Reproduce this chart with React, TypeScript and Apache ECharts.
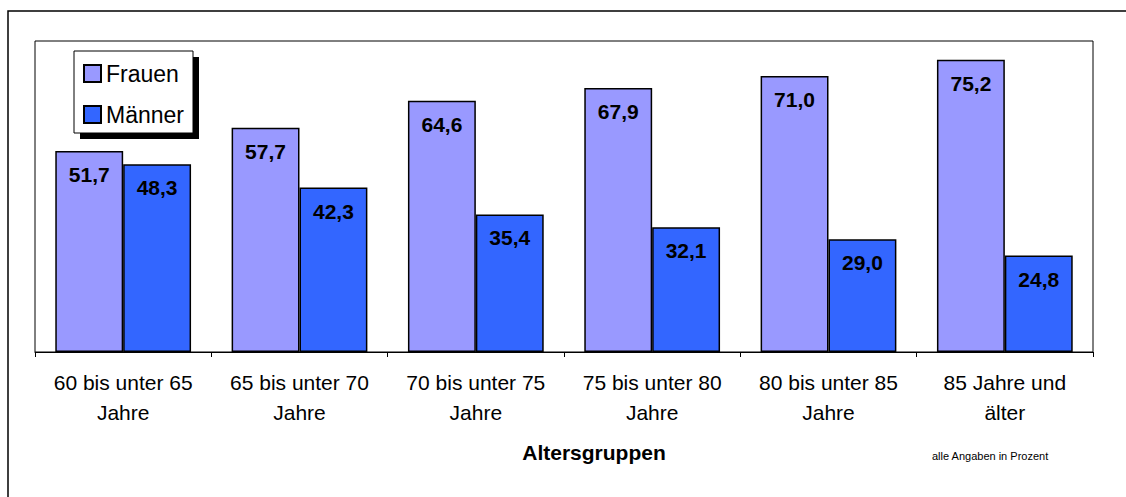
import React, { useEffect, useRef } from "react";
import * as echarts from "echarts";

const categories = [
  "60 bis unter 65\nJahre",
  "65 bis unter 70\nJahre",
  "70 bis unter 75\nJahre",
  "75 bis unter 80\nJahre",
  "80 bis unter 85\nJahre",
  "85 Jahre und\nälter",
];
const frauen = [51.7, 57.7, 64.6, 67.9, 71.0, 75.2];
const maenner = [48.3, 42.3, 35.4, 32.1, 29.0, 24.8];

const FONT = "'Liberation Sans', Arial, sans-serif";

export default function App() {
  const ref = useRef<HTMLDivElement>(null);
  useEffect(() => {
    if (!ref.current) return;
    const chart = echarts.init(ref.current, undefined, { renderer: "svg" });
    const fmt = (p: any) => Number(p.value).toFixed(1).replace(".", ",");
    const label = {
      show: true,
      position: "insideTop",
      distance: 13,
      formatter: fmt,
      color: "#000",
      fontSize: 21,
      fontWeight: "bold",
      fontFamily: FONT,
    };
    chart.setOption({
      animation: false,
      backgroundColor: "#fff",
      textStyle: { fontFamily: FONT },
      grid: {
        left: 35,
        top: 41,
        right: 33,
        bottom: 145,
        show: true,
        borderColor: "#000",
        borderWidth: 1,
      },
      legend: {
        orient: "vertical",
        left: 83,
        top: 62,
        padding: 0,
        itemWidth: 17,
        itemHeight: 17,
        itemGap: 18,
        icon: "rect",
        z: 10,
        textStyle: { fontSize: 23, lineHeight: 22, color: "#000", fontFamily: FONT },
        data: ["Frauen", "Männer"],
      },
      graphic: [
        {
          type: "rect",
          z: 0,
          shape: { x: 8, y: 11, width: 1140, height: 520 },
          style: { fill: "none", stroke: "#000", lineWidth: 1.5 },
          silent: true,
        },
        {
          type: "rect",
          z: 1,
          shape: { x: 80, y: 57, width: 119, height: 82 },
          style: { fill: "#000" },
          silent: true,
        },
        {
          type: "rect",
          z: 2,
          shape: { x: 74, y: 51, width: 119, height: 82 },
          style: { fill: "#fff", stroke: "#000", lineWidth: 1 },
          silent: true,
        },
        {
          type: "text",
          z: 3,
          x: 594,
          y: 452,
          style: {
            text: "Altersgruppen",
            fill: "#000",
            font: `bold 21px ${FONT}`,
            align: "center",
            verticalAlign: "middle",
          },
          silent: true,
        },
        {
          type: "text",
          z: 3,
          x: 932,
          y: 456,
          style: {
            text: "alle Angaben in Prozent",
            fill: "#000",
            font: `11px ${FONT}`,
            align: "left",
            verticalAlign: "middle",
          },
          silent: true,
        },
      ],
      xAxis: {
        type: "category",
        data: categories,
        boundaryGap: true,
        axisLine: { show: true, lineStyle: { color: "#000", width: 1 } },
        axisTick: { show: true, length: 5, lineStyle: { color: "#000" } },
        axisLabel: {
          color: "#000",
          fontSize: 21,
          lineHeight: 30,
          margin: 15,
          fontFamily: FONT,
          interval: 0,
        },
        splitLine: { show: false },
      },
      yAxis: {
        type: "value",
        min: 0,
        max: 80,
        show: false,
        splitLine: { show: false },
      },
      series: [
        {
          name: "Frauen",
          type: "bar",
          data: frauen,
          barGap: "0%",
          barCategoryGap: "23%",
          itemStyle: { color: "#9999FF", borderColor: "#000", borderWidth: 1.5 },
          label,
        },
        {
          name: "Männer",
          type: "bar",
          data: maenner,
          barGap: "0%",
          barCategoryGap: "23%",
          itemStyle: { color: "#3366FF", borderColor: "#000", borderWidth: 1.5 },
          label,
        },
      ],
    });
    return () => chart.dispose();
  }, []);
  return (
    <div
      ref={ref}
      style={{ position: "fixed", left: 0, top: 0, width: 1126, height: 497 }}
    />
  );
}
